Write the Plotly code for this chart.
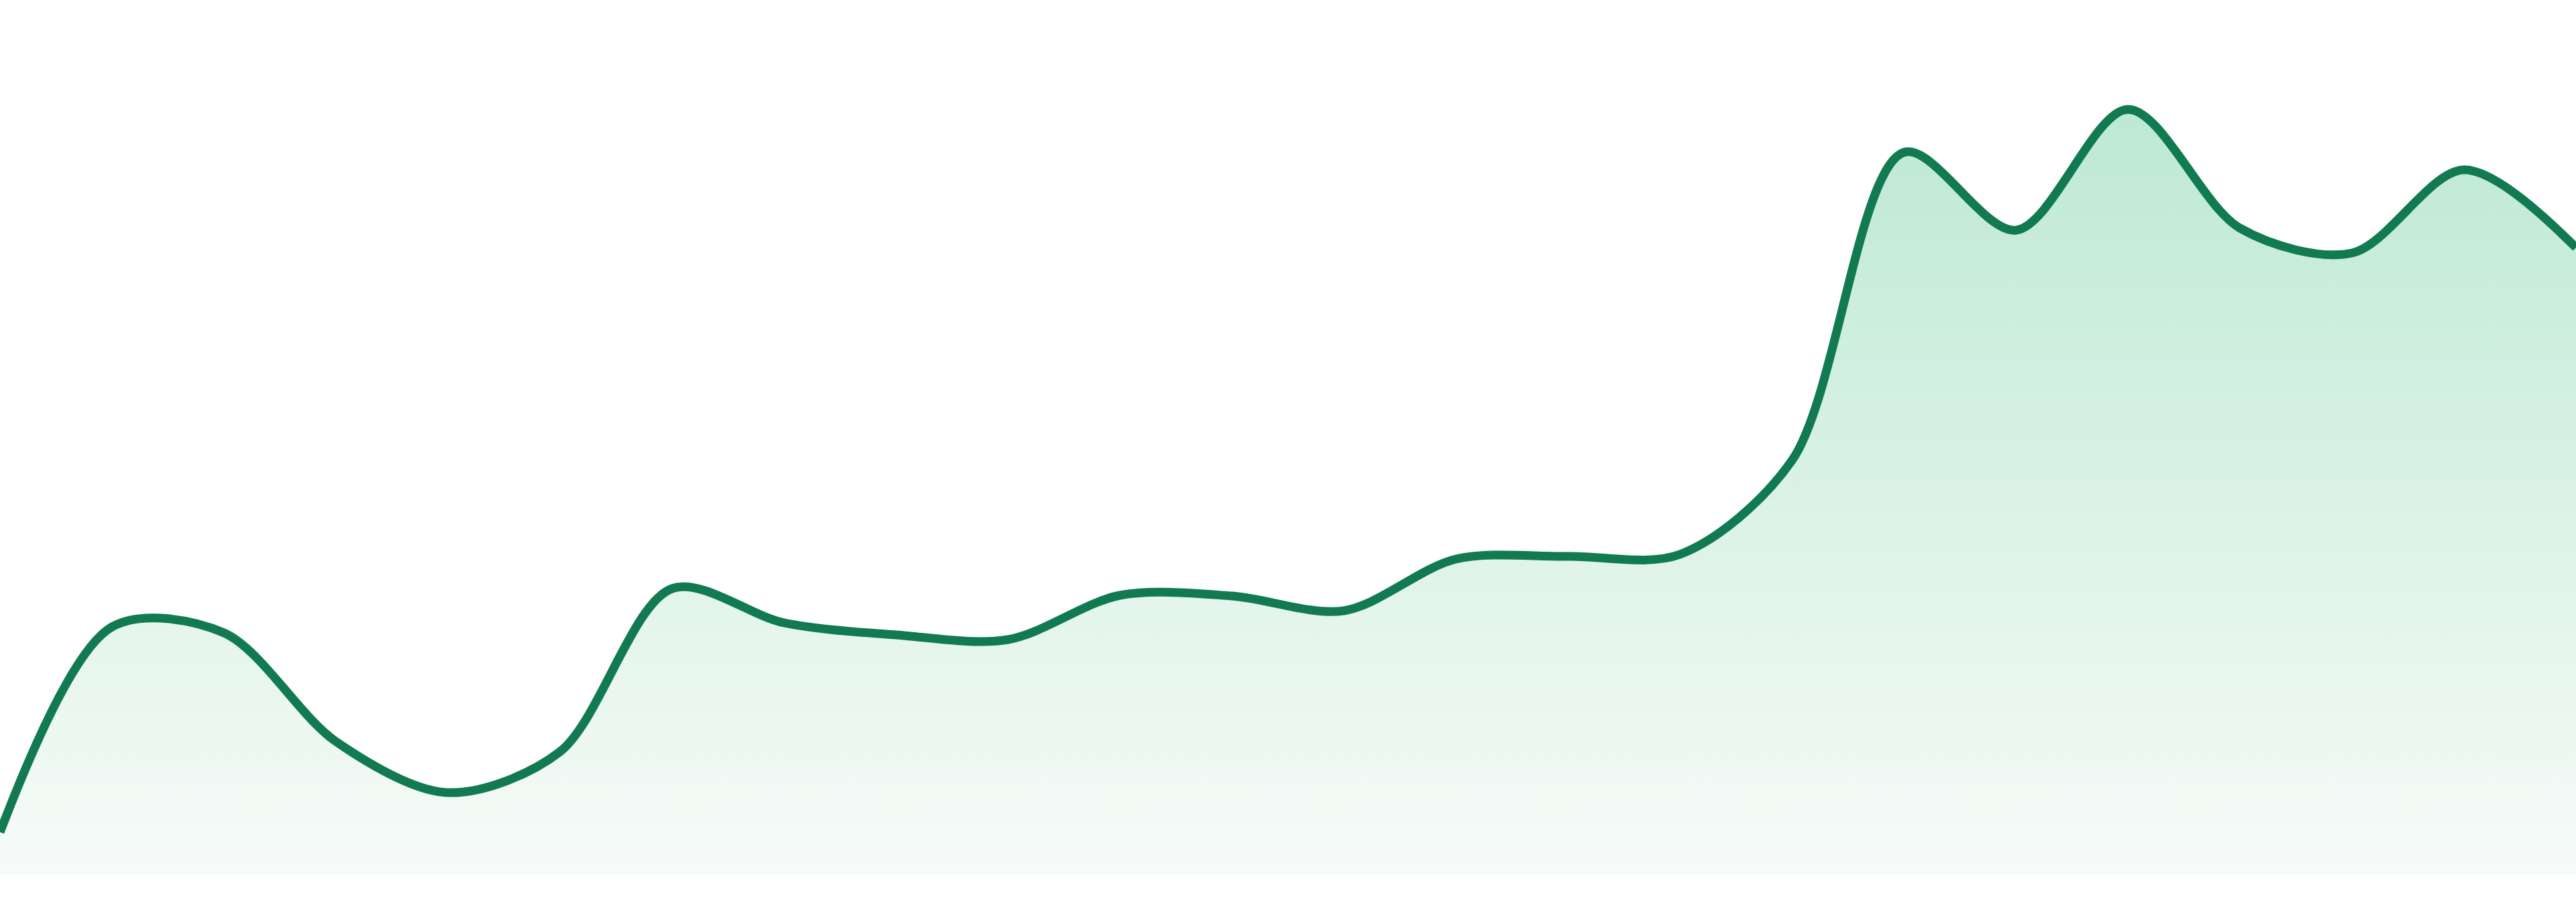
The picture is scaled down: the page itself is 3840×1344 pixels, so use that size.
import plotly.graph_objects as go

# 24 evenly spaced samples
x_idx = list(range(24))
values = [6.4, 37.0, 36.1, 19.9, 12.3, 18.4, 42.7, 37.6, 35.8, 35.1, 41.7, 41.6,
          39.4, 47.1, 47.5, 47.8, 61.8, 107.7, 96.1, 114.1, 96.4, 92.7, 105.1, 93.5]

line_color = '#117a50'
fill_bottom = 'rgb(247,251,249)'
fill_top = 'rgb(189,233,211)'

fig = go.Figure()

fig.add_trace(go.Scatter(
    x=x_idx,
    y=values,
    mode='lines',
    line=dict(color=line_color, width=13, shape='spline', smoothing=0.9),
    fill='tozeroy',
    fillgradient=dict(type='vertical',
                      colorscale=[[0, fill_bottom], [1, fill_top]]),
    hoverinfo='skip',
))

fig.update_layout(
    width=3840,
    height=1344,
    margin=dict(l=0, r=0, t=0, b=40),
    paper_bgcolor='white',
    plot_bgcolor='white',
    showlegend=False,
    xaxis=dict(visible=False, range=[0, 23], fixedrange=True),
    yaxis=dict(visible=False, range=[0, 130.4], fixedrange=True),
)

# drop the default body margin so the chart sits flush in the window
fig.write_html("out.html",
               config={'displayModeBar': False},
               post_script="document.body.style.margin='0';document.body.style.overflow='hidden';")
